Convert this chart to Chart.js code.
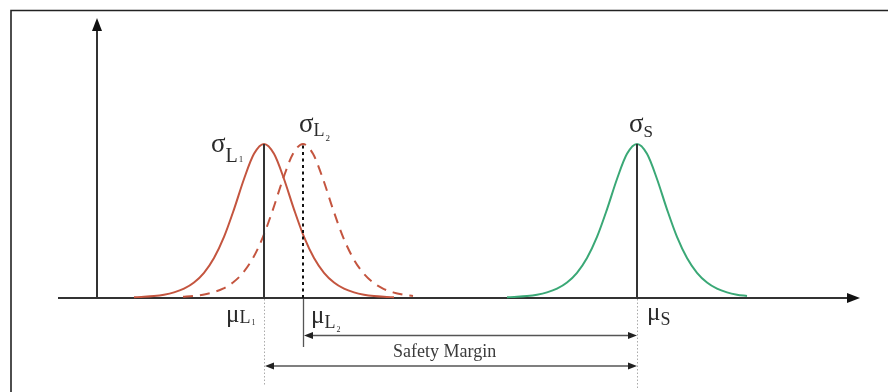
<!DOCTYPE html>
<html>
<head>
<meta charset="utf-8">
<script src="https://cdn.jsdelivr.net/npm/chart.js@4.4.0/dist/chart.umd.min.js"></script>
<style>
  html, body { margin: 0; padding: 0; background: #ffffff; }
  #wrap { width: 888px; height: 392px; position: relative; }
</style>
</head>
<body>
<div id="wrap"><canvas id="c" width="888" height="392"></canvas></div>
<script>
// ---- data (x in arbitrary units, y relative density) ----
const muValues = [20.6, 24.5, 57.9];          // μL1, μL2, μS
const peakValue = 1.0;

const redSolidX = [7.6, 8.6, 9.6, 10.6, 11.6, 12.6, 13.6, 14.6, 15.6, 16.6, 17.6, 18.6, 19.6, 20.6,
                   21.6, 22.6, 23.6, 24.6, 25.6, 26.6, 27.6, 28.6, 29.6, 30.6, 31.6, 32.6, 33.6];
const redSolidY = [0.005, 0.008, 0.013, 0.022, 0.037, 0.061, 0.101, 0.164, 0.260, 0.397, 0.576, 0.773, 0.936, 1.000,
                   0.936, 0.773, 0.576, 0.397, 0.260, 0.164, 0.101, 0.061, 0.037, 0.022, 0.013, 0.008, 0.005];

const redDashX = [12.5, 13.5, 14.5, 15.5, 16.5, 17.5, 18.5, 19.5, 20.5, 21.5, 22.5, 23.5, 24.5,
                  25.5, 26.5, 27.5, 28.5, 29.5, 30.5, 31.5, 32.5, 33.5, 34.5, 35.5];
const redDashY = [0.008, 0.013, 0.022, 0.037, 0.061, 0.101, 0.164, 0.260, 0.397, 0.576, 0.773, 0.936, 1.000,
                  0.936, 0.773, 0.576, 0.397, 0.260, 0.164, 0.101, 0.061, 0.037, 0.022, 0.013];

const greenX = [44.9, 45.9, 46.9, 47.9, 48.9, 49.9, 50.9, 51.9, 52.9, 53.9, 54.9, 55.9, 56.9, 57.9,
                58.9, 59.9, 60.9, 61.9, 62.9, 63.9, 64.9, 65.9, 66.9, 67.9, 68.9];
const greenY = [0.005, 0.008, 0.013, 0.022, 0.037, 0.061, 0.101, 0.164, 0.260, 0.397, 0.576, 0.773, 0.936, 1.000,
                0.936, 0.773, 0.576, 0.397, 0.260, 0.164, 0.101, 0.061, 0.037, 0.022, 0.013];

const yAxisX = 3.9;
const xRange = [0, 80.2];
const yRange = [-0.61, 1.818];

const labelSafety = "Safety Margin";

// ---- chart ----
function pts(xs, ys) { return xs.map((x, i) => ({ x: x, y: ys[i] })); }

const RED = '#c4553f';
const GREEN = '#3aa876';
const INK = '#333333';
const SERIF = '"Liberation Serif", "DejaVu Serif", serif';

function arrowHead(ctx, x, y, dir, len, half) {
  // dir: 'right','left','up'
  ctx.beginPath();
  if (dir === 'right') { ctx.moveTo(x, y); ctx.lineTo(x - len, y - half); ctx.lineTo(x - len, y + half); }
  if (dir === 'left')  { ctx.moveTo(x, y); ctx.lineTo(x + len, y - half); ctx.lineTo(x + len, y + half); }
  if (dir === 'up')    { ctx.moveTo(x, y); ctx.lineTo(x - half, y + len); ctx.lineTo(x + half, y + len); }
  ctx.closePath();
  ctx.fill();
}

function subLabel(ctx, x, y, base, baseSize, sub, subSize, subDy, subsub, subsubSize, subsubDy) {
  ctx.textBaseline = 'alphabetic';
  ctx.textAlign = 'left';
  ctx.font = baseSize + 'px ' + SERIF;
  ctx.fillText(base, x, y);
  let w = ctx.measureText(base).width;
  ctx.font = subSize + 'px ' + SERIF;
  ctx.fillText(sub, x + w, y + subDy);
  let w2 = ctx.measureText(sub).width;
  if (subsub) {
    ctx.font = subsubSize + 'px ' + SERIF;
    ctx.fillText(subsub, x + w + w2 + 1, y + subsubDy);
  }
}

const diagramPlugin = {
  id: 'diagram',
  beforeDraw(chart) {
    const ctx = chart.ctx;
    ctx.save();
    ctx.fillStyle = '#ffffff';
    ctx.fillRect(0, 0, chart.width, chart.height);
    // frame (top and left edges)
    ctx.strokeStyle = '#222222';
    ctx.lineWidth = 1.6;
    ctx.beginPath();
    ctx.moveTo(11, 392); ctx.lineTo(11, 10.5); ctx.lineTo(888, 10.5);
    ctx.stroke();
    ctx.restore();
  },
  beforeDatasetsDraw(chart) {
    const ctx = chart.ctx;
    const xs = chart.scales.x, ys = chart.scales.y;
    const y0 = ys.getPixelForValue(0);
    ctx.save();
    ctx.strokeStyle = INK;
    ctx.fillStyle = '#111111';
    ctx.lineWidth = 2;
    // x axis
    const xStart = 58, xEnd = xs.getPixelForValue(xRange[1]);
    ctx.beginPath(); ctx.moveTo(xStart, y0); ctx.lineTo(xEnd - 10, y0); ctx.stroke();
    arrowHead(ctx, xEnd, y0, 'right', 13, 5);
    // y axis
    const ax = xs.getPixelForValue(yAxisX), yTop = ys.getPixelForValue(yRange[1]);
    ctx.beginPath(); ctx.moveTo(ax, y0); ctx.lineTo(ax, yTop + 10); ctx.stroke();
    arrowHead(ctx, ax, yTop, 'up', 13, 5);
    ctx.restore();
  },
  afterDatasetsDraw(chart) {
    const ctx = chart.ctx;
    const xs = chart.scales.x, ys = chart.scales.y;
    const y0 = ys.getPixelForValue(0);
    const yp = ys.getPixelForValue(peakValue);
    const p1 = Math.round(xs.getPixelForValue(muValues[0]));
    const p2 = Math.round(xs.getPixelForValue(muValues[1]));
    const p3 = Math.round(xs.getPixelForValue(muValues[2]));
    ctx.save();
    // peak verticals
    ctx.strokeStyle = INK;
    ctx.lineWidth = 2;
    ctx.beginPath(); ctx.moveTo(p1, y0); ctx.lineTo(p1, yp); ctx.stroke();
    ctx.beginPath(); ctx.moveTo(p3, y0); ctx.lineTo(p3, yp); ctx.stroke();
    ctx.strokeStyle = '#111111';
    ctx.setLineDash([3, 3.5]);
    ctx.beginPath(); ctx.moveTo(p2, y0); ctx.lineTo(p2, yp); ctx.stroke();
    // dotted extension lines below axis
    ctx.strokeStyle = '#aaaaaa';
    ctx.lineWidth = 1;
    ctx.setLineDash([1.5, 2]);
    ctx.beginPath(); ctx.moveTo(p1 + 0.5, y0 + 1); ctx.lineTo(p1 + 0.5, 385); ctx.stroke();
    ctx.beginPath(); ctx.moveTo(p3 + 0.5, y0 + 1); ctx.lineTo(p3 + 0.5, 388); ctx.stroke();
    ctx.setLineDash([]);
    ctx.strokeStyle = '#555555';
    ctx.lineWidth = 1.3;
    ctx.beginPath(); ctx.moveTo(p2 + 0.5, y0 + 1); ctx.lineTo(p2 + 0.5, 347); ctx.stroke();
    // dimension arrows
    ctx.fillStyle = '#222222';
    const yA = 335.5, yB = 366;
    ctx.beginPath(); ctx.moveTo(p2 + 6, yA); ctx.lineTo(p3 - 6, yA); ctx.stroke();
    arrowHead(ctx, p2 + 1, yA, 'left', 9, 3.5);
    arrowHead(ctx, p3, yA, 'right', 9, 3.5);
    ctx.beginPath(); ctx.moveTo(p1 + 6, yB); ctx.lineTo(p3 - 6, yB); ctx.stroke();
    arrowHead(ctx, p1 + 1, yB, 'left', 9, 3.5);
    arrowHead(ctx, p3, yB, 'right', 9, 3.5);
    // Safety Margin text
    ctx.fillStyle = '#3a3a3a';
    ctx.font = '18px ' + SERIF;
    ctx.textAlign = 'left';
    ctx.textBaseline = 'alphabetic';
    ctx.fillText(labelSafety, 393, 357);
    // sigma / mu labels
    ctx.fillStyle = '#2a2a2a';
    subLabel(ctx, p1 - 53, 152, 'σ', 27, 'L', 20, 10, '1', 9, 10);
    subLabel(ctx, p2 - 4, 132, 'σ', 27, 'L', 18, 4, '2', 9, 9);
    subLabel(ctx, p3 - 8, 132, 'σ', 27, 'S', 17, 5, null);
    subLabel(ctx, p1 - 38, 322, 'μ', 25, 'L', 18, 1, '1', 8, 3);
    subLabel(ctx, p2 + 8, 323, 'μ', 25, 'L', 18, 5, '2', 8, 9);
    subLabel(ctx, p3 + 10, 320, 'μ', 25, 'S', 18, 5, null);
    ctx.restore();
  }
};

new Chart(document.getElementById('c'), {
  type: 'line',
  data: {
    datasets: [
      { label: 'σL1', data: pts(redSolidX, redSolidY), borderColor: RED, borderWidth: 2,
        pointRadius: 0, fill: false, cubicInterpolationMode: 'monotone' },
      { label: 'σL2', data: pts(redDashX, redDashY), borderColor: RED, borderWidth: 2,
        borderDash: [10, 7], pointRadius: 0, fill: false, cubicInterpolationMode: 'monotone' },
      { label: 'σS', data: pts(greenX, greenY), borderColor: GREEN, borderWidth: 2,
        pointRadius: 0, fill: false, cubicInterpolationMode: 'monotone' }
    ]
  },
  options: {
    responsive: false,
    animation: false,
    devicePixelRatio: 1,
    layout: { padding: { left: 58, right: 28, top: 18, bottom: 0 } },
    scales: {
      x: { type: 'linear', min: xRange[0], max: xRange[1], display: false },
      y: { type: 'linear', min: yRange[0], max: yRange[1], display: false }
    },
    plugins: { legend: { display: false }, tooltip: { enabled: false } }
  },
  plugins: [diagramPlugin]
});
</script>
</body>
</html>
